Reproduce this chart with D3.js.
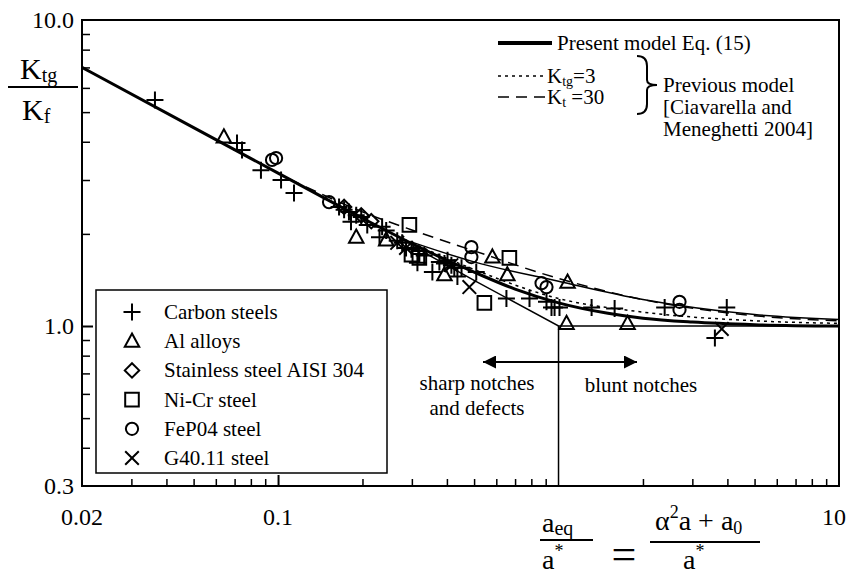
<!DOCTYPE html>
<html>
<head>
<meta charset="utf-8">
<script src="https://cdn.jsdelivr.net/npm/d3@7"></script>
<style>
  body { margin: 0; background: #fff; }
  svg text { font-family: "Liberation Serif", "Times New Roman", Times, serif; fill: #000; }
</style>
</head>
<body>
<script>
// Ktg/Kf versus aeq/a* -- log-log plot

// ---- data ----
var yTickLabels = ["10.0", "1.0", "0.3"];
var yTickValues = [10, 1, 0.3];
var xTickLabels = ["0.02", "0.1", "10"];
var xTickValues = [0.02, 0.1, 10];

// curves [aeq/a*, Ktg/Kf]
var presentModel = [[0.02, 7.0], [0.05, 4.45], [0.1, 3.16], [0.2, 2.25], [0.3, 1.86], [0.4, 1.64],
  [0.5, 1.50], [0.7, 1.32], [1, 1.19], [1.5, 1.10], [2, 1.06], [3, 1.03], [5, 1.01], [10, 1.0]];
var lowerBound = [[0.3, 1.83], [0.5, 1.41], [1, 1.0], [10, 1.0]];
var upperBound = [[0.3, 1.88], [0.5, 1.62], [1, 1.40], [2, 1.22], [5, 1.09], [10, 1.05]];
var ktg3 = [[0.3, 1.87], [0.5, 1.53], [1, 1.23], [2, 1.11], [5, 1.04], [10, 1.02]];
var kt30 = [[0.11, 3.02], [0.2, 2.36], [0.3, 2.06], [0.5, 1.76], [1, 1.43], [2, 1.22], [5, 1.08], [10, 1.04]];

// test data per material [aeq/a*, Ktg/Kf]
var carbonSteels = [[0.0364, 5.48], [0.0714, 3.96], [0.0744, 3.76], [0.0869, 3.23], [0.1025, 3.00],
  [0.114, 2.72], [0.165, 2.45], [0.172, 2.40], [0.179, 2.36], [0.182, 2.19], [0.19, 2.30], [0.198, 2.27],
  [0.208, 2.14], [0.235, 2.11], [0.23, 1.95], [0.243, 2.05], [0.266, 1.90], [0.277, 1.87], [0.286, 1.80],
  [0.299, 1.78], [0.314, 1.61], [0.319, 1.72], [0.332, 1.70], [0.355, 1.50], [0.376, 1.62], [0.392, 1.60],
  [0.402, 1.64], [0.415, 1.58], [0.425, 1.55], [0.436, 1.45], [0.451, 1.55], [0.509, 1.50], [0.652, 1.23],
  [0.788, 1.23], [0.906, 1.20], [0.944, 1.15], [0.968, 1.15], [1.008, 1.15], [1.312, 1.15], [1.585, 1.14],
  [2.39, 1.15], [3.98, 1.15], [3.61, 0.914]];
var alAlloys = [[0.0641, 4.15], [0.190, 1.95], [0.243, 1.91], [0.392, 1.47], [0.581, 1.68], [0.657, 1.47],
  [1.077, 1.39], [1.068, 1.02], [1.763, 1.02]];
var stainless = [[0.172, 2.45], [0.198, 2.30], [0.215, 2.20]];
var niCr = [[0.294, 2.14], [0.299, 1.71], [0.319, 1.67], [0.668, 1.67], [0.544, 1.19]];
var feP04 = [[0.0952, 3.49], [0.0984, 3.54], [0.152, 2.54], [0.489, 1.81], [0.489, 1.68], [0.870, 1.38],
  [0.906, 1.34], [2.70, 1.20], [2.70, 1.13]];
var g4011 = [[0.481, 1.34], [0.266, 1.87], [0.286, 1.80], [0.415, 1.58], [3.82, 0.978]];

var materials = [
  {name: "Carbon steels", shape: "plus", data: carbonSteels},
  {name: "Al alloys", shape: "triangle", data: alAlloys},
  {name: "Stainless steel AISI 304", shape: "diamond", data: stainless},
  {name: "Ni-Cr steel", shape: "square", data: niCr},
  {name: "FeP04 steel", shape: "circle", data: feP04},
  {name: "G40.11 steel", shape: "times", data: g4011}
];

var w = 849, h = 573;
var svg = d3.select("body").append("svg").attr("width", w).attr("height", h)
  .attr("font-family", "'Liberation Serif', 'Times New Roman', Times, serif");

var x = d3.scaleLog().domain([0.02, 10]).range([82, 839]);
var y = d3.scaleLog().domain([0.3, 10]).range([486, 20]);

// marker outline drawn with d3.path
function shape(kind, r) {
  var p = d3.path();
  if (kind == "plus") {
    p.moveTo(-r, 0); p.lineTo(r, 0); p.moveTo(0, -r); p.lineTo(0, r);
  } else if (kind == "times") {
    p.moveTo(-r * 0.8, -r * 0.8); p.lineTo(r * 0.8, r * 0.8);
    p.moveTo(-r * 0.8, r * 0.8); p.lineTo(r * 0.8, -r * 0.8);
  } else if (kind == "triangle") {
    p.moveTo(0, -r * 0.9); p.lineTo(r * 0.85, r * 0.65); p.lineTo(-r * 0.85, r * 0.65); p.closePath();
  } else if (kind == "diamond") {
    p.moveTo(0, -r * 0.85); p.lineTo(r * 0.85, 0); p.lineTo(0, r * 0.85); p.lineTo(-r * 0.85, 0); p.closePath();
  } else if (kind == "square") {
    p.rect(-r * 0.8, -r * 0.8, r * 1.6, r * 1.6);
  } else {
    p.arc(0, 0, r * 0.72, 0, 2 * Math.PI);
  }
  return p.toString();
}

// frame
svg.append("rect").attr("x", 82).attr("y", 20).attr("width", 757).attr("height", 466)
  .attr("fill", "none").attr("stroke", "#000").attr("stroke-width", 2);

// ticks, pointing inward
var yMinor = [0.4, 0.5, 0.6, 0.7, 0.8, 0.9, 2, 3, 4, 5, 6, 7, 8, 9];
svg.append("g").attr("transform", "translate(82,0)")
  .call(d3.axisRight(y).tickValues(yMinor).tickSize(8).tickFormat(""))
  .call(function(g){ g.select(".domain").remove(); })
  .selectAll("line").attr("stroke-width", 1.5);
svg.append("g").attr("transform", "translate(82,0)")
  .call(d3.axisRight(y).tickValues([1]).tickSize(11).tickFormat(""))
  .call(function(g){ g.select(".domain").remove(); })
  .selectAll("line").attr("stroke-width", 2);

var xMinor = [0.03, 0.04, 0.05, 0.06, 0.07, 0.08, 0.09, 0.2, 0.3, 0.4, 0.5, 0.6, 0.7, 0.8, 0.9,
  2, 3, 4, 5, 6, 7, 8, 9];
svg.append("g").attr("transform", "translate(0,486)")
  .call(d3.axisTop(x).tickValues(xMinor).tickSize(7).tickFormat(""))
  .call(function(g){ g.select(".domain").remove(); })
  .selectAll("line").attr("stroke-width", 1.5);
svg.append("g").attr("transform", "translate(0,486)")
  .call(d3.axisTop(x).tickValues([0.1]).tickSize(11).tickFormat(""))
  .call(function(g){ g.select(".domain").remove(); })
  .selectAll("line").attr("stroke-width", 2);

// tick labels
svg.selectAll(".ylab").data(yTickValues).enter().append("text")
  .attr("x", 74).attr("y", function(d){ return y(d) + 8; })
  .attr("text-anchor", "end").attr("font-size", 24)
  .text(function(d, i){ return yTickLabels[i]; });
svg.selectAll(".xlab").data(xTickValues).enter().append("text")
  .attr("x", function(d){ return Math.min(x(d), 834); }).attr("y", 525)
  .attr("text-anchor", "middle").attr("font-size", 24)
  .text(function(d, i){ return xTickLabels[i]; });

// y title
var yt = svg.append("g").attr("font-size", 30);
var t1 = yt.append("text").attr("x", 20).attr("y", 79);
t1.append("tspan").text("K");
t1.append("tspan").attr("font-size", 20).attr("dy", 3).text("tg");
yt.append("line").attr("x1", 8).attr("x2", 78).attr("y1", 87).attr("y2", 87)
  .attr("stroke", "#000").attr("stroke-width", 2);
var t2 = yt.append("text").attr("x", 22).attr("y", 120);
t2.append("tspan").text("K");
t2.append("tspan").attr("font-size", 20).attr("dy", 3).text("f");

// x title
var xt = svg.append("g").attr("font-size", 28);
var a1 = xt.append("text").attr("x", 542).attr("y", 532);
a1.append("tspan").text("a");
a1.append("tspan").attr("font-size", 20).attr("dy", 3).text("eq");
xt.append("line").attr("x1", 540).attr("x2", 593).attr("y1", 540).attr("y2", 540)
  .attr("stroke", "#000").attr("stroke-width", 2);
var a2 = xt.append("text").attr("x", 542).attr("y", 569);
a2.append("tspan").text("a");
a2.append("tspan").attr("font-size", 18).attr("dy", -12).text("*");
xt.append("text").attr("x", 624).attr("y", 569).attr("text-anchor", "middle")
  .attr("font-size", 44).text("=");
var a3 = xt.append("text").attr("x", 655).attr("y", 530);
a3.append("tspan").text("α");
a3.append("tspan").attr("font-size", 18).attr("dy", -12).text("2");
a3.append("tspan").attr("dy", 12).text("a + a");
a3.append("tspan").attr("font-size", 18).attr("dy", 4).text("0");
xt.append("line").attr("x1", 650).attr("x2", 760).attr("y1", 542).attr("y2", 542)
  .attr("stroke", "#000").attr("stroke-width", 2);
var a4 = xt.append("text").attr("x", 683).attr("y", 569);
a4.append("tspan").text("a");
a4.append("tspan").attr("font-size", 18).attr("dy", -12).text("*");

// curves
var line = d3.line().x(function(d){ return x(d[0]); }).y(function(d){ return y(d[1]); })
  .curve(d3.curveMonotoneX);
svg.append("path").datum(kt30).attr("d", line).attr("fill", "none")
  .attr("stroke", "#000").attr("stroke-width", 1.5).attr("stroke-dasharray", "11,7");
svg.append("path").datum(ktg3).attr("d", line).attr("fill", "none")
  .attr("stroke", "#000").attr("stroke-width", 1.5).attr("stroke-dasharray", "3,4");
svg.append("path").datum(upperBound).attr("d", line).attr("fill", "none")
  .attr("stroke", "#000").attr("stroke-width", 1.5);
svg.append("path").datum(lowerBound).attr("d", d3.line().x(function(d){ return x(d[0]); })
  .y(function(d){ return y(d[1]); })).attr("fill", "none")
  .attr("stroke", "#000").attr("stroke-width", 1.5);
svg.append("path").datum(presentModel).attr("d", line).attr("fill", "none")
  .attr("stroke", "#000").attr("stroke-width", 3);

// vertical line at aeq/a* = 1
svg.append("line").attr("x1", x(1)).attr("x2", x(1)).attr("y1", y(1)).attr("y2", y(0.3))
  .attr("stroke", "#000").attr("stroke-width", 1.5);

// markers
materials.forEach(function(m){
  svg.append("g").selectAll("path").data(m.data).enter().append("path")
    .attr("transform", function(d){ return "translate(" + x(d[0]) + "," + y(d[1]) + ")"; })
    .attr("d", shape(m.shape, 8.5))
    .attr("fill", "none").attr("stroke", "#000").attr("stroke-width", 2);
});

// arrow
var defs = svg.append("defs");
defs.append("marker").attr("id", "head").attr("viewBox", "0 0 10 10")
  .attr("refX", 10).attr("refY", 5).attr("markerWidth", 20).attr("markerHeight", 13)
  .attr("markerUnits", "userSpaceOnUse").attr("orient", "auto-start-reverse")
  .append("path").attr("d", "M0,0L10,5L0,10Z").attr("fill", "#000");
svg.append("line").attr("x1", 483).attr("x2", 637).attr("y1", 362).attr("y2", 362)
  .attr("stroke", "#000").attr("stroke-width", 2)
  .attr("marker-start", "url(#head)").attr("marker-end", "url(#head)");
svg.append("text").attr("x", 477).attr("y", 390).attr("text-anchor", "middle")
  .attr("font-size", 21).text("sharp notches");
svg.append("text").attr("x", 477).attr("y", 415).attr("text-anchor", "middle")
  .attr("font-size", 21).text("and defects");
svg.append("text").attr("x", 641).attr("y", 392).attr("text-anchor", "middle")
  .attr("font-size", 21).text("blunt notches");

// material legend
svg.append("rect").attr("x", 96).attr("y", 290).attr("width", 291).attr("height", 183)
  .attr("fill", "#fff").attr("stroke", "#000").attr("stroke-width", 1.5);
var leg = svg.selectAll(".leg").data(materials).enter().append("g")
  .attr("transform", function(d, i){ return "translate(132," + (312 + i * 29.2) + ")"; });
leg.append("path").attr("d", function(d){ return shape(d.shape, 8.5); })
  .attr("fill", "none").attr("stroke", "#000").attr("stroke-width", 2);
leg.append("text").attr("x", 32).attr("y", 7).attr("font-size", 21)
  .text(function(d){ return d.name; });

// model legend
var ml = svg.append("g").attr("font-size", 21);
ml.append("line").attr("x1", 498).attr("x2", 552).attr("y1", 43).attr("y2", 43)
  .attr("stroke", "#000").attr("stroke-width", 4);
ml.append("text").attr("x", 557).attr("y", 50).text("Present model Eq. (15)");
ml.append("line").attr("x1", 498).attr("x2", 545).attr("y1", 76).attr("y2", 76)
  .attr("stroke", "#000").attr("stroke-width", 1.5).attr("stroke-dasharray", "3,4");
var k1 = ml.append("text").attr("x", 547).attr("y", 83);
k1.append("tspan").text("K");
k1.append("tspan").attr("font-size", 14).attr("dy", 3).text("tg");
k1.append("tspan").attr("dy", -3).text("=3");
ml.append("line").attr("x1", 498).attr("x2", 545).attr("y1", 97).attr("y2", 97)
  .attr("stroke", "#000").attr("stroke-width", 1.5).attr("stroke-dasharray", "11,7");
var k2 = ml.append("text").attr("x", 547).attr("y", 104);
k2.append("tspan").text("K");
k2.append("tspan").attr("font-size", 14).attr("dy", 3).text("t");
k2.append("tspan").attr("dy", -3).text(" =30");
ml.append("path").attr("d", "M637,56 Q647,56 647,66 L647,80 Q647,85 657,85 Q647,85 647,90 L647,104 Q647,114 637,114")
  .attr("fill", "none").attr("stroke", "#000").attr("stroke-width", 2);
ml.append("text").attr("x", 663).attr("y", 92).text("Previous model");
ml.append("text").attr("x", 663).attr("y", 114).text("[Ciavarella and");
ml.append("text").attr("x", 663).attr("y", 136).text("Meneghetti 2004]");
</script>
</body>
</html>
